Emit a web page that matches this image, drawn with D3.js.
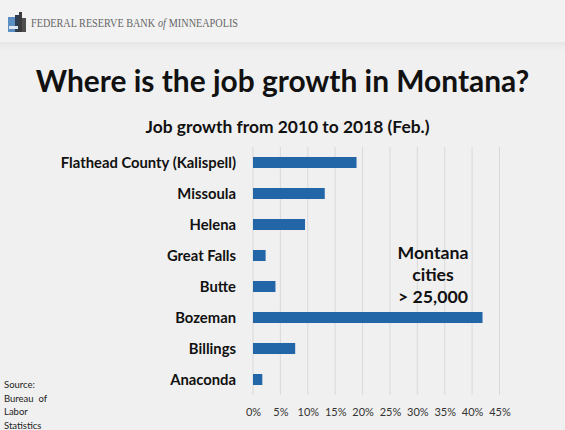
<!DOCTYPE html>
<html>
<head>
<meta charset="utf-8">
<script src="https://cdn.jsdelivr.net/npm/d3@7"></script>
<style>
  html, body { margin: 0; padding: 0; background: #f0f0f0; }
  svg { display: block; }
</style>
</head>
<body>
<script>
// Job growth by Montana city, 2010 to 2018 (Feb.)
const cities = ["Flathead County (Kalispell)", "Missoula", "Helena", "Great Falls", "Butte", "Bozeman", "Billings", "Anaconda"];
const growth = [0.189, 0.131, 0.095, 0.023, 0.041, 0.419, 0.077, 0.017];
const tickValues = [0, 0.05, 0.10, 0.15, 0.20, 0.25, 0.30, 0.35, 0.40, 0.45];
const noteLines = ["Montana", "cities", "> 25,000"];
const sourceLines = ["Source:", "Bureau  of", "Labor", "Statistics"];
const bankName = ["FEDERAL RESERVE BANK", "of", "MINNEAPOLIS"];

const W = 565, H = 430;
const font = "Lato, 'Open Sans', sans-serif";
const svg = d3.select("body").append("svg").attr("width", W).attr("height", H);

const defs = svg.append("defs");
const shade = defs.append("linearGradient").attr("id", "headShade").attr("x1", 0).attr("x2", 0).attr("y1", 0).attr("y2", 1);
shade.append("stop").attr("offset", 0).attr("stop-color", "#e6e6e6");
shade.append("stop").attr("offset", 1).attr("stop-color", "#f0f0f0");

svg.append("rect").attr("width", W).attr("height", H).attr("fill", "#f0f0f0");
svg.append("rect").attr("y", 0).attr("width", W).attr("height", 42).attr("fill", "#f2f2f2");
svg.append("rect").attr("y", 42).attr("width", W).attr("height", 9).attr("fill", "url(#headShade)");

// header strip with bank name and building mark
const logo = svg.append("g").attr("transform", "translate(8,12)");
logo.append("rect").attr("x", 0).attr("y", 5).attr("width", 7).attr("height", 15).attr("fill", "#5b8fc4");
logo.append("rect").attr("x", 7).attr("y", 3).attr("width", 4).attr("height", 17).attr("fill", "#2f3f52");
logo.append("rect").attr("x", 11).attr("y", 0).attr("width", 3).attr("height", 20).attr("fill", "#3b3b3b");
logo.append("rect").attr("x", 14).attr("y", 6).attr("width", 4).attr("height", 14).attr("fill", "#4f4f4f");
logo.append("rect").attr("x", 1).attr("y", 14).attr("width", 9).attr("height", 3).attr("fill", "#dfe8f2");

// bank name: words laid out in sequence, then squeezed horizontally to the wordmark width
const nameG = svg.append("g");
const nameTexts = nameG.selectAll("text").data(bankName).join("text")
  .attr("y", 27)
  .attr("font-family", "'Liberation Serif', 'DejaVu Serif', serif")
  .attr("font-size", 12.5).attr("fill", "#666")
  .attr("font-style", (d, i) => i === 1 ? "italic" : "normal")
  .text(d => d);
let cursor = 0;
nameTexts.each(function() {
  d3.select(this).attr("x", cursor);
  cursor += this.getComputedTextLength() + 3.5;
});
const nameWidth = cursor - 3.5;
nameG.attr("transform", `translate(31,0) scale(${207 / nameWidth},1)`);

svg.append("text").attr("x", 282.5).attr("y", 92).attr("text-anchor", "middle")
  .attr("font-family", font).attr("font-weight", "bold").attr("font-size", 29.9).attr("fill", "#111")
  .text("Where is the job growth in Montana?");

svg.append("text").attr("x", 287.5).attr("y", 133).attr("text-anchor", "middle")
  .attr("font-family", font).attr("font-weight", "bold").attr("font-size", 17.4).attr("fill", "#111")
  .text("Job growth from 2010 to 2018 (Feb.)");

// plot area
const x = d3.scaleLinear().domain([0, 0.45]).range([253, 499.5]);
const y = d3.scaleBand().domain(cities).range([147, 395]).paddingInner(0.645).paddingOuter(0.3225);

svg.append("g").selectAll("line").data(tickValues).join("line")
  .attr("x1", d => x(d)).attr("x2", d => x(d))
  .attr("y1", 147).attr("y2", 395)
  .attr("stroke", "#d9d9d9").attr("stroke-width", 1);

svg.append("g").selectAll("rect").data(cities).join("rect")
  .attr("x", x(0))
  .attr("y", d => y(d))
  .attr("width", (d, i) => x(growth[i]) - x(0))
  .attr("height", y.bandwidth())
  .attr("fill", "#2266a8");

// category labels
svg.append("g").selectAll("text").data(cities).join("text")
  .attr("x", 236).attr("y", d => y(d) + y.bandwidth() / 2)
  .attr("dy", "0.35em").attr("text-anchor", "end")
  .attr("font-family", font).attr("font-weight", "bold").attr("font-size", 14.8).attr("fill", "#111")
  .text(d => d);

// percent axis
const axis = svg.append("g").attr("transform", "translate(0,405)")
  .call(d3.axisBottom(x).tickValues(tickValues).tickFormat(d3.format(".0%")).tickSize(0));
axis.select(".domain").remove();
axis.selectAll("text").attr("font-family", font).attr("font-size", 11).attr("fill", "#333");

// annotation
svg.append("g").selectAll("text").data(noteLines).join("text")
  .attr("x", 433).attr("y", (d, i) => 259 + i * 22).attr("text-anchor", "middle")
  .attr("font-family", font).attr("font-weight", "bold").attr("font-size", 17.7).attr("fill", "#111")
  .text(d => d);

svg.append("g").selectAll("text").data(sourceLines).join("text")
  .attr("x", 4).attr("y", (d, i) => 388 + i * 13.7).attr("xml:space", "preserve")
  .attr("font-family", font).attr("font-size", 9.5).attr("fill", "#222")
  .text(d => d);
</script>
</body>
</html>
